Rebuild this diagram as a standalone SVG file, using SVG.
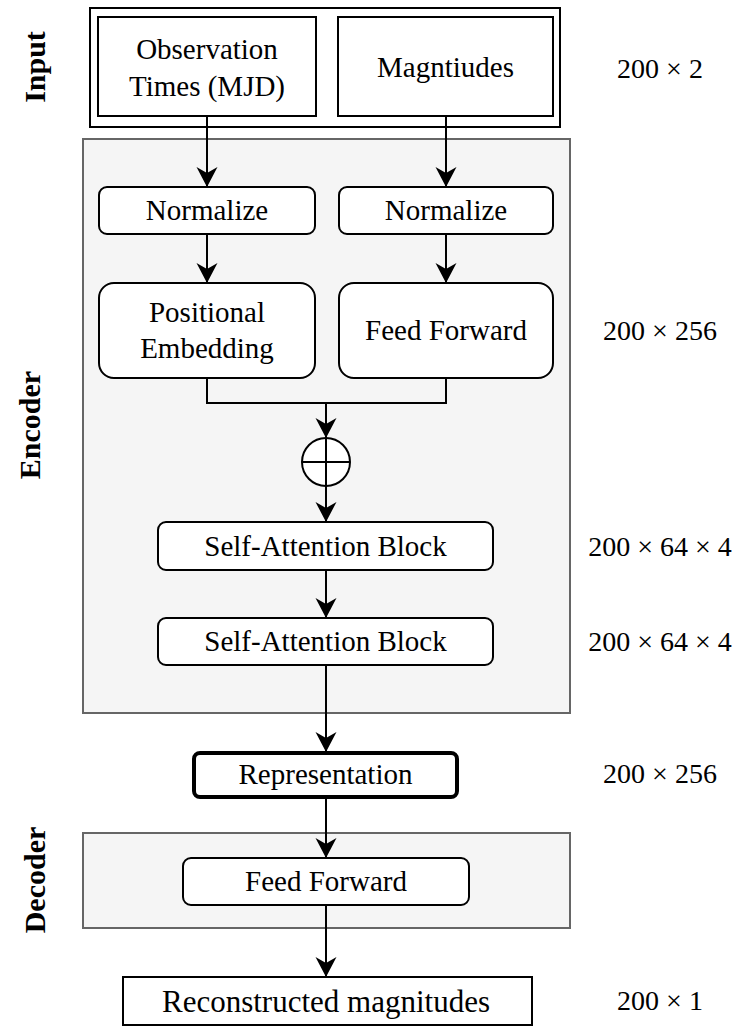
<svg xmlns="http://www.w3.org/2000/svg" width="735" height="1035" viewBox="0 0 735 1035">
<style>
  .t { font-family: "Liberation Serif", "Times New Roman", serif; font-size: 29px; fill: #000; text-anchor: middle; }
  .dim { font-family: "Liberation Serif", "Times New Roman", serif; font-size: 28px; fill: #000; text-anchor: middle; }
  .lbl { font-family: "Liberation Serif", "Times New Roman", serif; font-size: 30px; font-weight: bold; fill: #000; text-anchor: middle; }
  .box { fill: #fff; stroke: #000; stroke-width: 2; }
  .grp { fill: #f5f5f5; stroke: #666; stroke-width: 2; }
  .edge { fill: none; stroke: #000; stroke-width: 2; }
</style>
<defs>
  <marker id="arr" markerUnits="userSpaceOnUse" markerWidth="22" markerHeight="22" refX="20" refY="11" orient="auto">
    <path d="M0,0.5 L20,11 L0,21.5 L6,11 Z" fill="#000"/>
  </marker>
</defs>
<rect width="735" height="1035" fill="#fff"/>

<g id="encoder-group">
  <rect class="grp" x="83" y="139" width="487" height="574"/>
</g>
<g id="decoder-group">
  <rect class="grp" x="83" y="833" width="487" height="95"/>
</g>

<g id="input-group">
  <rect class="box" x="90" y="8" width="470" height="119"/>
</g>
<g id="obs-times">
  <rect class="box" x="98" y="17" width="218" height="99"/>
  <text class="t" x="207" y="59">Observation</text>
  <text class="t" x="207" y="96">Times (MJD)</text>
</g>
<g id="magnitudes">
  <rect class="box" x="338" y="17" width="215" height="99"/>
  <text class="t" x="445.5" y="77">Magntiudes</text>
</g>

<g id="normalize-1">
  <rect class="box" x="99" y="187" width="216" height="47" rx="8"/>
  <text class="t" x="207" y="220">Normalize</text>
</g>
<g id="normalize-2">
  <rect class="box" x="339" y="187" width="214" height="47" rx="8"/>
  <text class="t" x="446" y="220">Normalize</text>
</g>
<g id="positional-embedding">
  <rect class="box" x="99" y="283" width="216" height="95" rx="15"/>
  <text class="t" x="207" y="322">Positional</text>
  <text class="t" x="207" y="358">Embedding</text>
</g>
<g id="feed-forward-enc">
  <rect class="box" x="339" y="283" width="214" height="95" rx="15"/>
  <text class="t" x="446" y="340">Feed Forward</text>
</g>
<g id="sum">
  <circle cx="326" cy="462" r="24" fill="#fff" stroke="#000" stroke-width="2"/>
  <path d="M302,462 H350 M326,438 V486" stroke="#000" stroke-width="2"/>
</g>
<g id="self-attention-1">
  <rect class="box" x="158" y="522" width="335" height="48" rx="8"/>
  <text class="t" x="325.5" y="556">Self-Attention Block</text>
</g>
<g id="self-attention-2">
  <rect class="box" x="158" y="618" width="335" height="47" rx="8"/>
  <text class="t" x="325.5" y="651">Self-Attention Block</text>
</g>
<g id="representation">
  <rect x="194" y="753" width="263" height="44" rx="6" fill="#fff" stroke="#000" stroke-width="4"/>
  <text class="t" x="325.5" y="784">Representation</text>
</g>
<g id="feed-forward-dec">
  <rect class="box" x="183" y="858" width="286" height="47" rx="8"/>
  <text class="t" x="326" y="891">Feed Forward</text>
</g>
<g id="reconstructed">
  <rect class="box" x="123" y="977" width="409" height="48"/>
  <text class="t" x="326" y="1012" style="font-size:31px">Reconstructed magnitudes</text>
</g>

<g id="connectors">
  <path class="edge" d="M207,116 V187" marker-end="url(#arr)"/>
  <path class="edge" d="M446,116 V187" marker-end="url(#arr)"/>
  <path class="edge" d="M207,234 V283" marker-end="url(#arr)"/>
  <path class="edge" d="M446,234 V283" marker-end="url(#arr)"/>
  <path class="edge" d="M207,378 V403 H446 V378"/>
  <path class="edge" d="M326,403 V438" marker-end="url(#arr)"/>
  <path class="edge" d="M326,486 V522" marker-end="url(#arr)"/>
  <path class="edge" d="M326,570 V618" marker-end="url(#arr)"/>
  <path class="edge" d="M326,665 V752" marker-end="url(#arr)"/>
  <path class="edge" d="M326,797 V858" marker-end="url(#arr)"/>
  <path class="edge" d="M326,905 V977" marker-end="url(#arr)"/>
</g>

<g id="side-labels">
  <text class="lbl" transform="translate(45,67) rotate(-90)">Input</text>
  <text class="lbl" transform="translate(40,425) rotate(-90)">Encoder</text>
  <text class="lbl" transform="translate(45,880) rotate(-90)">Decoder</text>
</g>

<g id="dimensions">
  <text class="dim" x="660" y="78">200 × 2</text>
  <text class="dim" x="660" y="340">200 × 256</text>
  <text class="dim" x="660" y="556">200 × 64 × 4</text>
  <text class="dim" x="660" y="651">200 × 64 × 4</text>
  <text class="dim" x="660" y="783">200 × 256</text>
  <text class="dim" x="660" y="1010">200 × 1</text>
</g>
</svg>
